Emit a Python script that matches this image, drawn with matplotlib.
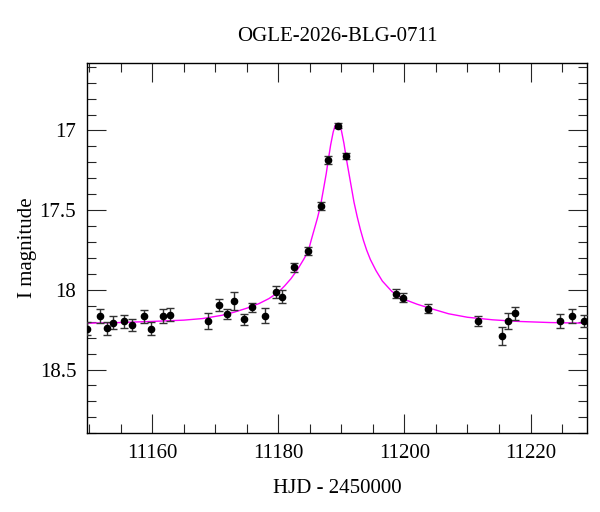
import matplotlib
matplotlib.use('Agg')
import matplotlib.pyplot as plt
from matplotlib.ticker import MultipleLocator

# observed points: HJD-2450000, I mag, error
hjd = [11149.7, 11151.65, 11152.76, 11153.8, 11155.6, 11156.8, 11158.7, 11159.8,
       11161.65, 11162.8, 11168.9, 11170.6, 11171.8, 11173.0, 11174.6, 11175.9,
       11177.9, 11179.6, 11180.6, 11182.5, 11184.76, 11186.7, 11187.9, 11189.5,
       11190.7, 11198.6, 11199.7, 11203.8, 11211.7, 11215.5, 11216.5, 11217.5,
       11224.6, 11226.6, 11228.5]
mag = [18.244, 18.167, 18.242, 18.206, 18.198, 18.219, 18.167, 18.244,
       18.167, 18.156, 18.196, 18.094, 18.152, 18.071, 18.186, 18.109,
       18.161, 18.013, 18.042, 17.859, 17.756, 17.473, 17.186, 16.971,
       17.161, 18.023, 18.050, 18.117, 18.196, 18.290, 18.196, 18.148,
       18.196, 18.165, 18.196]
err = [0.04, 0.044, 0.04, 0.04, 0.042, 0.038, 0.038, 0.04,
       0.044, 0.042, 0.05, 0.036, 0.03, 0.055, 0.036, 0.028,
       0.047, 0.036, 0.04, 0.03, 0.025, 0.025, 0.023, 0.016,
       0.019, 0.031, 0.029, 0.03, 0.032, 0.057, 0.05, 0.04,
       0.046, 0.043, 0.04]

# model curve
model_t = [11149.0, 11155.0, 11160.0, 11165.0, 11168.0, 11171.0, 11173.0, 11175.0,
           11177.0, 11178.5, 11180.0, 11181.0, 11182.0, 11183.0, 11184.0, 11184.76,
           11185.2, 11185.7, 11186.2, 11186.7, 11187.2, 11187.6, 11187.9, 11188.3,
           11188.7, 11189.0, 11189.35, 11189.7, 11190.0, 11190.4, 11190.8, 11191.2,
           11191.6, 11192.0, 11192.5, 11193.0, 11193.5, 11194.0, 11194.6, 11195.5,
           11196.5, 11198.0, 11200.0, 11202.0, 11204.0, 11207.0, 11210.0, 11214.0,
           11218.0, 11223.0, 11230.0]
model_m = [18.210, 18.205, 18.198, 18.190, 18.180, 18.160, 18.140, 18.115,
           18.085, 18.055, 18.015, 17.975, 17.930, 17.875, 17.810, 17.756,
           17.690, 17.620, 17.550, 17.470, 17.360, 17.270, 17.190, 17.090,
           17.010, 16.970, 16.956, 16.970, 17.000, 17.080, 17.180, 17.270,
           17.360, 17.450, 17.540, 17.620, 17.690, 17.750, 17.810, 17.880,
           17.945, 18.010, 18.060, 18.090, 18.115, 18.150, 18.172, 18.188,
           18.198, 18.205, 18.210]

plt.rcParams['font.family'] = ['Liberation Serif', 'DejaVu Serif']
plt.rcParams['font.size'] = 15

fig = plt.figure(figsize=(6, 5.12), dpi=100)
ax = fig.add_axes([0.1455, 0.1537, 0.8333, 0.7238])

ax.plot(model_t, model_m, color='#ff00ff', lw=1.0, zorder=2)
ax.errorbar(hjd, mag, yerr=err, fmt='o', color='black', ms=4.5,
            ecolor='0.2', elinewidth=1.0, capsize=3, capthick=1.0, zorder=3)

ax.set_xlim(11149.7, 11229.0)
ax.set_ylim(18.9, 16.575)
ax.xaxis.set_major_locator(MultipleLocator(20))
ax.xaxis.set_minor_locator(MultipleLocator(5))
ax.yaxis.set_major_locator(MultipleLocator(0.5))
ax.yaxis.set_minor_locator(MultipleLocator(0.1))
ax.set_yticks([17, 17.5, 18, 18.5])
ax.set_yticklabels(['17', '17.5', '18', '18.5'])
ax.tick_params(which='both', direction='in', top=True, right=True, width=0.8, color='0.15')
ax.tick_params(which='major', length=13.5, pad=8)
ax.tick_params(which='minor', length=6.8)
for s in ax.spines.values():
    s.set_linewidth(1.0)

ax.set_xlabel('HJD - 2450000', labelpad=11)
ax.set_ylabel('I magnitude', labelpad=2)
ax.set_title('OGLE-2026-BLG-0711', fontsize=15, pad=15.5)

fig.savefig('out.png', dpi=100)
